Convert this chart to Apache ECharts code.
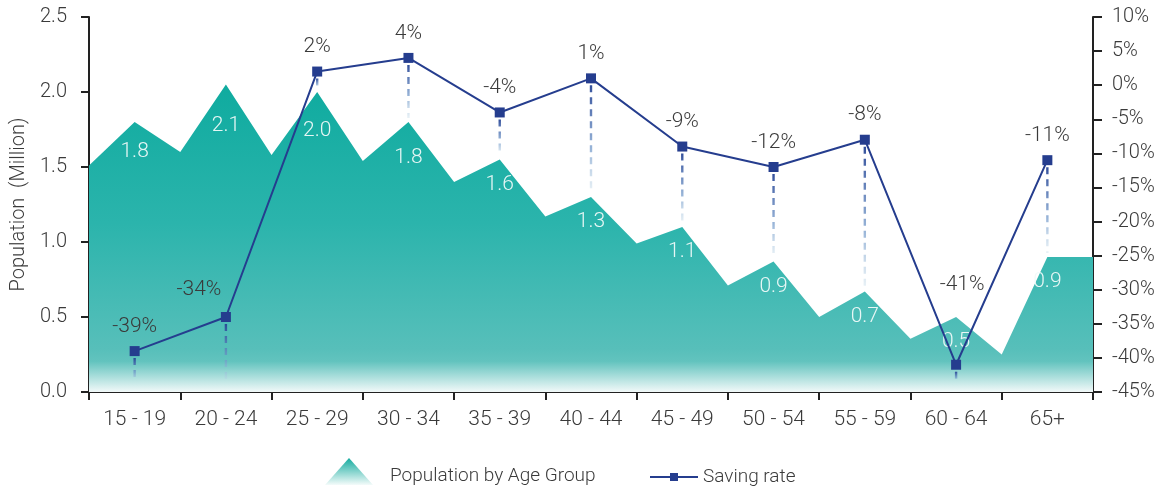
<!DOCTYPE html>
<html>
<head>
<meta charset="utf-8">
<script src="https://cdn.jsdelivr.net/npm/echarts@6/dist/echarts.min.js"></script>
<style>
html,body{margin:0;padding:0;background:#fff;}
#chart{width:1171px;height:493px;}
</style>
</head>
<body>
<div id="chart"></div>
<script>
// ---- data ----
const ageGroups = ['15 - 19','20 - 24','25 - 29','30 - 34','35 - 39','40 - 44','45 - 49','50 - 54','55 - 59','60 - 64','65+'];
// population (million) at each age group's peak
const popPeaks = [1.8, 2.05, 2.0, 1.8, 1.55, 1.3, 1.1, 0.87, 0.67, 0.5, 0.9];
// population outline between groups (left edge, 10 boundaries, right edge)
const popBoundaries = [1.51, 1.6, 1.58, 1.54, 1.40, 1.17, 0.99, 0.71, 0.5, 0.355, 0.25, 0.9];
// saving rate (%)
const savingRate = [-39, -34, 2, 4, -4, 1, -9, -12, -8, -41, -11];
const leftTicks = { min: 0, max: 2.5, interval: 0.5 };
const rightTicks = { min: -45, max: 10, interval: 5 };

// ---- build ----
const FONT = 'Roboto, "Liberation Sans", sans-serif';
const FW = 300;
const TXT = '#3a3a3a';
const BLUE = '#253d8e';

const fineAxis = [];
const areaData = [];
const peakLabelOffset = { 0: 5, 1: 16, 2: 14, 3: 11 };
for (let i = 0; i < ageGroups.length; i++) {
  fineAxis.push('b' + i);
  areaData.push({ value: popBoundaries[i], label: { show: false } });
  fineAxis.push('c' + i);
  areaData.push({
    value: popPeaks[i],
    label: { show: true, offset: [0, peakLabelOffset[i] || 0] }
  });
}
fineAxis.push('b' + ageGroups.length);
areaData.push({ value: popBoundaries[ageGroups.length], label: { show: false } });

const savingLabelOffset = { 1: [-27, -3], 9: [6, -55] };
const savingData = savingRate.map((v, i) => savingLabelOffset[i]
  ? { value: v, label: { offset: savingLabelOffset[i] } } : v);

// map population value onto right-axis value (both axes share the grid height)
function popToRate(p) {
  return rightTicks.min + (p - leftTicks.min) / (leftTicks.max - leftTicks.min) * (rightTicks.max - rightTicks.min);
}
const dropData = savingRate.map((v, i) => [i, v, popPeaks[i]]);

const areaGradient = new echarts.graphic.LinearGradient(0, 0, 0, 1, [
  { offset: 0, color: '#0fab9f' },
  { offset: 0.45, color: '#2bb4ac' },
  { offset: 0.86, color: '#57bfba' },
  { offset: 0.9, color: '#62c3be' },
  { offset: 1, color: '#f2f9f9' }
]);

const chart = echarts.init(document.getElementById('chart'), null, { renderer: 'canvas' });
chart.setOption({
  animation: false,
  textStyle: { fontFamily: FONT, fontWeight: FW },
  grid: { left: 89, right: 78, top: 17, bottom: 101, containLabel: false },
  legend: [
    {
      left: 325, top: 457, padding: 0, itemWidth: 48, itemHeight: 27,
      formatter: '{a|{name}}',
      textStyle: {
        color: TXT, fontSize: 19, fontFamily: FONT, fontWeight: FW,
        rich: { a: { color: TXT, fontSize: 19, fontFamily: FONT, fontWeight: FW, lineHeight: 22, padding: [10, 0, 0, 12] } }
      },
      data: [{
        name: 'Population by Age Group', icon: 'triangle',
        itemStyle: { color: new echarts.graphic.LinearGradient(0, 0, 0, 1, [
          { offset: 0, color: '#14ab9f' }, { offset: 1, color: '#f4fbfa' }]), borderWidth: 0, opacity: 1 }
      }]
    },
    {
      left: 649, top: 466, padding: 0, itemWidth: 48, itemHeight: 10,
      textStyle: { color: TXT, fontSize: 19, fontFamily: FONT, fontWeight: FW, lineHeight: 22 },
      data: ['Saving rate']
    }
  ],
  xAxis: [
    {
      type: 'category', data: ageGroups, boundaryGap: true,
      axisLine: { lineStyle: { color: '#222', width: 2 } },
      axisTick: { show: true, length: 8, lineStyle: { color: '#222', width: 2 } },
      axisLabel: { color: TXT, fontSize: 21, fontWeight: FW, margin: 17, fontFamily: FONT }
    },
    {
      type: 'category', data: fineAxis, boundaryGap: false, show: false
    }
  ],
  yAxis: [
    {
      type: 'value', min: leftTicks.min, max: leftTicks.max, interval: leftTicks.interval,
      name: 'Population  (Million)', nameLocation: 'middle', nameGap: 57,
      nameTextStyle: { color: TXT, fontSize: 20, fontWeight: FW, fontFamily: FONT },
      splitLine: { show: false },
      axisLine: { show: true, lineStyle: { color: '#222', width: 2 } },
      axisTick: { show: true, length: 8, lineStyle: { color: '#222', width: 2 } },
      axisLabel: { color: TXT, fontSize: 20, fontWeight: FW, margin: 22, formatter: v => v.toFixed(1) }
    },
    {
      type: 'value', min: rightTicks.min, max: rightTicks.max, interval: rightTicks.interval,
      position: 'right',
      splitLine: { show: false },
      axisLine: { show: true, lineStyle: { color: '#222', width: 2 } },
      axisTick: { show: true, length: 9, lineStyle: { color: '#222', width: 2 } },
      axisLabel: { color: TXT, fontSize: 20, fontWeight: FW, margin: 19, formatter: '{value}%' }
    }
  ],
  series: [
    {
      name: 'Population by Age Group', type: 'line',
      xAxisIndex: 1, yAxisIndex: 0,
      data: areaData,
      showSymbol: true, symbol: 'circle', symbolSize: 1,
      lineStyle: { width: 0 },
      itemStyle: { color: 'rgba(0,0,0,0)' },
      areaStyle: { color: areaGradient, opacity: 1 },
      label: {
        show: true, position: 'bottom', distance: 14,
        color: 'rgba(240,250,249,0.95)', fontSize: 21, fontWeight: FW, fontFamily: FONT,
        formatter: p => (Math.round(p.value * 10) / 10).toFixed(1)
      },
      emphasis: { disabled: true },
      z: 1
    },
    {
      type: 'custom', xAxisIndex: 0, yAxisIndex: 1,
      data: dropData, encode: { x: 0, y: 1 },
      silent: true, z: 2,
      renderItem: function (params, api) {
        const i = api.value(0), r = api.value(1), p = api.value(2);
        const s = api.coord([i, r]);
        const top = api.coord([i, popToRate(p)]);
        const base = api.coord([i, rightTicks.min]);
        const y1 = s[1] + 7;
        const y2 = s[1] < top[1] ? top[1] - 4 : base[1] - 10;
        return {
          type: 'line',
          shape: { x1: s[0], y1: y1, x2: s[0], y2: y2 },
          style: {
            stroke: new echarts.graphic.LinearGradient(0, y1, 0, y2, [
              { offset: 0, color: 'rgba(40,70,150,0.95)' },
              { offset: 0.6, color: 'rgba(110,150,200,0.7)' },
              { offset: 1, color: 'rgba(190,215,230,0.35)' }
            ], true),
            lineWidth: 2.4, lineDash: [7, 5]
          }
        };
      }
    },
    {
      name: 'Saving rate', type: 'line',
      xAxisIndex: 0, yAxisIndex: 1,
      data: savingData,
      symbol: 'rect', symbolSize: 10,
      lineStyle: { color: BLUE, width: 2 },
      itemStyle: { color: BLUE },
      label: {
        show: true, position: 'top', distance: 9,
        color: TXT, fontSize: 21, fontWeight: FW, fontFamily: FONT,
        formatter: '{c}%'
      },
      z: 3
    }
  ]
});
</script>
</body>
</html>
